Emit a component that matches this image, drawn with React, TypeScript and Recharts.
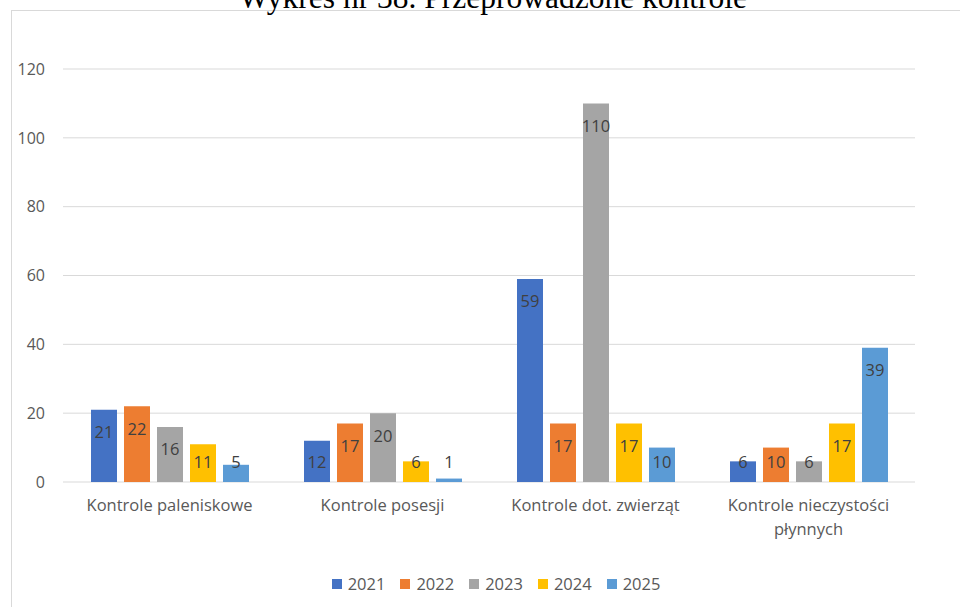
import { Bar, BarChart, CartesianGrid, LabelList, Legend, XAxis, YAxis } from 'recharts';

const categories = [
  'Kontrole paleniskowe',
  'Kontrole posesji',
  'Kontrole dot. zwierząt',
  'Kontrole nieczystości\npłynnych',
];
const years = ['2021', '2022', '2023', '2024', '2025'];
const values2021 = [21, 12, 59, 6];
const values2022 = [22, 17, 17, 10];
const values2023 = [16, 20, 110, 6];
const values2024 = [11, 6, 17, 17];
const values2025 = [5, 1, 10, 39];
const yTicks = [0, 20, 40, 60, 80, 100, 120];
const colors = ['#4472C4', '#ED7D31', '#A5A5A5', '#FFC000', '#5B9BD5'];

const series = [values2021, values2022, values2023, values2024, values2025];
const data = categories.map((name, i) => {
  const row: Record<string, string | number> = { name };
  years.forEach((y, s) => {
    row[y] = series[s][i];
  });
  return row;
});

const FONT = '"Segoe UI", "Open Sans", "Noto Sans", sans-serif';
const TEXT_SIZE = 16.5;

function BarValue(props: any) {
  const { x, y, width, height, value } = props;
  const cx = Number(x) + Number(width) / 2;
  const top = Number(y);
  const cy = Math.min(top + 22, top + Number(height) - 21);
  return (
    <text
      x={cx}
      y={cy}
      textAnchor="middle"
      dominantBaseline="central"
      fill="#404040"
      fontSize={TEXT_SIZE}
      fontFamily={FONT}
    >
      {value}
    </text>
  );
}

function CategoryTick(props: any) {
  const { x, y, payload } = props;
  const lines = String(payload.value).split('\n');
  return (
    <text x={x} y={y} textAnchor="middle" fill="#595959" fontSize={TEXT_SIZE} fontFamily={FONT}>
      {lines.map((line, i) => (
        <tspan key={i} x={x} dy={i === 0 ? 29 : 24}>
          {line}
        </tspan>
      ))}
    </text>
  );
}

function LegendBox(props: any) {
  const payload = props.payload ?? [];
  return (
    <div
      style={{
        display: 'flex',
        justifyContent: 'center',
        gap: 15,
        fontFamily: FONT,
        fontSize: TEXT_SIZE,
        color: '#595959',
        lineHeight: '24px',
      }}
    >
      {payload.map((p: any) => (
        <div key={p.value} style={{ display: 'flex', alignItems: 'center' }}>
          <span style={{ width: 10, height: 10, background: p.color, marginRight: 6 }} />
          <span>{p.value}</span>
        </div>
      ))}
    </div>
  );
}

export default function App() {
  return (
    <div
      style={{
        position: 'absolute',
        left: 0,
        top: 0,
        width: 960,
        height: 607,
        background: '#fff',
        overflow: 'hidden',
      }}
    >
      <div
        style={{
          position: 'absolute',
          left: 11,
          top: 10,
          width: 1000,
          height: 1000,
          border: '1px solid #d9d9d9',
        }}
      />
      <div
        style={{
          position: 'absolute',
          left: 93,
          width: 800,
          top: 6 - 28,
          height: 40,
          lineHeight: '40px',
          textAlign: 'center',
          fontFamily: '"Liberation Serif", "Times New Roman", serif',
          fontSize: 31.5,
          color: '#000',
          whiteSpace: 'nowrap',
        }}
      >
        Wykres nr 38. Przeprowadzone kontrole
      </div>
      <div style={{ position: 'absolute', left: 0, top: 0 }}>
        <BarChart
          width={960}
          height={607}
          data={data}
          margin={{ top: 69, right: 45, left: 0, bottom: 11 }}
          barSize={26}
          barGap={7}
        >
          <CartesianGrid vertical={false} stroke="#d9d9d9" strokeWidth={1} />
          <XAxis
            dataKey="name"
            axisLine={false}
            tickLine={false}
            tickSize={0}
            tickMargin={0}
            height={90}
            interval={0}
            tick={<CategoryTick />}
          />
          <YAxis
            domain={[0, 120]}
            ticks={yTicks}
            axisLine={false}
            tickLine={false}
            tickSize={0}
            tickMargin={18}
            width={63}
            tick={{ fill: '#595959', fontSize: 16, fontFamily: FONT }}
          />
          <Legend
            verticalAlign="bottom"
            height={24}
            content={<LegendBox />}
            wrapperStyle={{ left: 26, width: 940 }}
          />
          {years.map((y, i) => (
            <Bar key={y} dataKey={y} name={y} fill={colors[i]} isAnimationActive={false}>
              <LabelList dataKey={y} content={<BarValue />} />
            </Bar>
          ))}
        </BarChart>
      </div>
    </div>
  );
}
